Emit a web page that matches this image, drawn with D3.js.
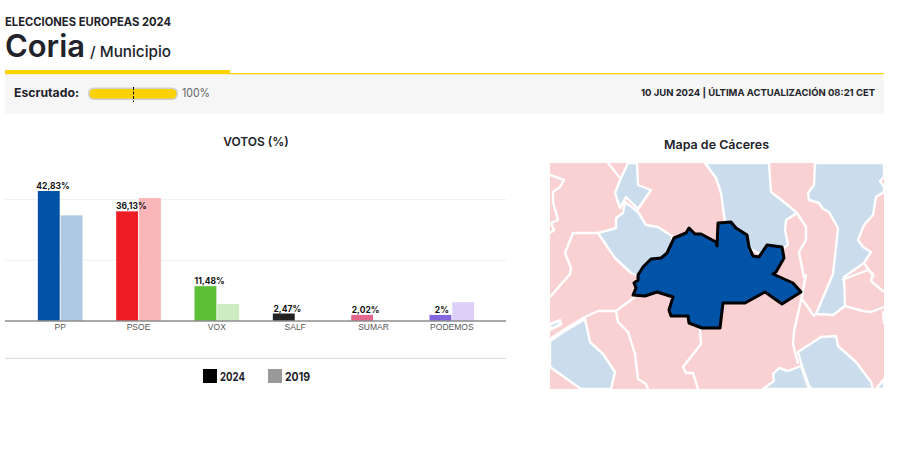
<!DOCTYPE html>
<html>
<head>
<meta charset="utf-8">
<script src="https://cdn.jsdelivr.net/npm/d3@7"></script>
<style>
  body { margin: 0; background: #fff; }
  text { font-family: Inter, "Open Sans", sans-serif; fill: #22222a; }
  .tick text { font-family: "Liberation Sans", sans-serif; fill: #555; }
</style>
</head>
<body>
<div id="chart"></div>
<script>
// Chart data
const parties = ['PP', 'PSOE', 'VOX', 'SALF', 'SUMAR', 'PODEMOS'];
const years = ['2024', '2019'];
const votes2024 = [42.83, 36.13, 11.48, 2.47, 2.02, 2];
const votes2019 = [34.8, 40.5, 5.6, 0, 0, 6.2];
const voteLabels = ['42,83%', '36,13%', '11,48%', '2,47%', '2,02%', '2%'];
const colors2024 = ['#0053a6', '#ee1c25', '#5bc035', '#222222', '#e5668c', '#8466e0'];
const colors2019 = ['#afc9e2', '#fab6b9', '#cdecc2', '#cccccc', '#f5c2d1', '#dccff8'];
const gridValues = [20, 40];

// Map shapes (units: pixels inside the map frame)
const coriaShape = [[88,112],[93,104],[101,96],[111,95],[117,90],[124,75],[136,70],[139,65],[145,71],[151,71],[166,79],[167,83],[168,60],[181,59],[186,65],[197,72],[199,84],[203,93],[209,94],[217,82],[232,84],[234,95],[226,109],[223,111],[243,120],[251,129],[232,141],[215,129],[195,140],[173,140],[170,165],[152,165],[139,160],[138,153],[121,153],[119,147],[123,134],[107,129],[95,133],[83,132],[86,125],[84,120],[88,117]];
const bluePolygons = [
  [[78,0],[87,0],[88,22],[101,27],[88,46],[76,34],[70,45],[65,30],[70,17]],
  [[75,39],[88,49],[96,62],[108,64],[122,73],[120,95],[92,112],[90,114],[81,110],[65,95],[48,70],[66,65],[66,55],[73,50]],
  [[155,0],[219,0],[221,29],[234,39],[247,50],[236,57],[235,67],[238,82],[217,95],[190,80],[176,65],[174,52],[171,30],[166,15]],
  [[265,0],[334,0],[334,14],[330,18],[334,24],[334,29],[326,34],[323,52],[314,62],[308,77],[313,84],[321,89],[314,100],[294,114],[295,143],[283,152],[266,151],[283,111],[288,65],[279,49],[273,46],[269,40],[259,37],[258,30],[264,22]],
  [[248,189],[271,174],[286,173],[288,183],[306,199],[321,219],[323,226],[261,226],[259,223],[252,203]],
  [[213,226],[224,218],[223,211],[229,205],[238,208],[251,203],[259,226]],
  [[326,226],[334,216],[334,226]],
  [[35,156],[40,179],[53,191],[65,209],[61,226],[31,226],[0,204],[0,178],[15,168]],
  [[0,161],[10,158],[11,161],[0,166]]
];
const borderLines = [
  [[58,0],[70,15]],
  [[0,12],[14,17],[10,24],[3,29],[3,39],[8,57],[1,60],[4,67],[0,70]],
  [[48,70],[23,70],[15,90],[21,105],[20,111],[0,134]],
  [[85,134],[66,148],[48,148],[35,154],[15,166],[0,176]],
  [[66,148],[68,159],[78,169],[85,191],[88,216],[96,221],[98,226]],
  [[150,166],[151,181],[133,204],[136,210],[143,210],[148,226]],
  [[256,111],[252,133],[244,168],[243,181],[248,201]],
  [[252,136],[264,153],[266,151]],
  [[295,143],[313,148],[321,149],[334,144]],
  [[292,117],[318,107],[323,111],[321,118],[334,129]],
  [[333,148],[334,161]],
  [[247,50],[256,64],[256,77],[249,89],[254,115]],
  [[314,100],[324,114]],
  [[0,161],[11,157]],
  [[0,167],[12,161]]
];

const width = 917;
const height = 460;
const yellow = '#fcd205';

const svg = d3.select('#chart')
  .append('svg')
  .attr('width', width)
  .attr('height', height)
  .style('display', 'block');

// Header
function addText(x, y, str, size, weight, len) {
  const t = svg.append('text')
    .attr('x', x)
    .attr('y', y)
    .attr('font-size', size)
    .attr('font-weight', weight)
    .text(str);
  if (len) t.attr('textLength', len).attr('lengthAdjust', 'spacingAndGlyphs');
  return t;
}

addText(5, 26, 'ELECCIONES EUROPEAS 2024', 11.5, 700, 166);
addText(5, 57, 'Coria', 31, 600, 80);
addText(90, 57, '/ Municipio', 15, 500, 81);

svg.append('rect').attr('x', 5).attr('y', 73).attr('width', 879).attr('height', 1.5).attr('fill', yellow);
svg.append('rect').attr('x', 5).attr('y', 70).attr('width', 225).attr('height', 4).attr('fill', yellow);

// Status strip
svg.append('rect').attr('x', 5).attr('y', 74.5).attr('width', 879).attr('height', 39).attr('fill', '#f6f6f6');
addText(14, 97, 'Escrutado:', 12, 700, 65);
svg.append('rect').attr('x', 88).attr('y', 87.5).attr('width', 90).attr('height', 12.5).attr('rx', 6).attr('fill', '#cfcfcf');
svg.append('rect').attr('x', 89.5).attr('y', 89).attr('width', 87).attr('height', 9.5).attr('rx', 4.5).attr('fill', yellow);
svg.append('line')
  .attr('x1', 133.5).attr('x2', 133.5).attr('y1', 87).attr('y2', 102)
  .attr('stroke', '#000').attr('stroke-dasharray', '3,1.5');
addText(182, 97, '100%', 12, 400, 28).style('fill', '#666');
addText(641, 96, '10 JUN 2024 | ÚLTIMA ACTUALIZACIÓN 08:21 CET', 9.5, 700, 234);

// Bar chart
addText(256, 146, 'VOTOS (%)', 12, 600).attr('text-anchor', 'middle');

const x0 = d3.scaleBand()
  .domain(parties)
  .range([21, 491])
  .paddingInner(0.43)
  .paddingOuter(0.215);
const x1 = d3.scaleBand()
  .domain(years)
  .range([0, x0.bandwidth()])
  .paddingInner(0.04);
const y = d3.scaleLinear().domain([0, 40]).range([321, 199.6]);

svg.selectAll('.grid')
  .data(gridValues)
  .enter()
  .append('line')
  .attr('class', 'grid')
  .attr('x1', 5)
  .attr('x2', 506)
  .attr('y1', d => y(d))
  .attr('y2', d => y(d))
  .attr('stroke', '#f1f1f1');

const barData = parties.map((p, i) => ({
  party: p,
  values: [
    { year: '2019', value: votes2019[i], color: colors2019[i] },
    { year: '2024', value: votes2024[i], color: colors2024[i] }
  ],
  label: voteLabels[i],
  v: votes2024[i]
}));

const groups = svg.selectAll('.party')
  .data(barData)
  .enter()
  .append('g')
  .attr('class', 'party')
  .attr('transform', d => `translate(${x0(d.party)},0)`);

groups.selectAll('rect')
  .data(d => d.values.filter(v => v.value > 0))
  .enter()
  .append('rect')
  .attr('x', d => x1(d.year))
  .attr('y', d => y(d.value))
  .attr('width', x1.bandwidth())
  .attr('height', d => y(0) - y(d.value))
  .attr('fill', d => d.color);

groups.append('text')
  .attr('x', x1('2024') + x1.bandwidth() / 2)
  .attr('dx', d => d.label.length * 0.7)
  .attr('y', d => y(d.v) - 2)
  .attr('text-anchor', 'middle')
  .attr('font-size', 8.5)
  .attr('font-weight', 700)
  .style('fill', '#111')
  .text(d => d.label);

const xAxis = d3.axisBottom(x0).tickSize(0).tickPadding(3);
const gX = svg.append('g')
  .attr('transform', `translate(0,${y(0)})`)
  .call(xAxis);
gX.selectAll('text').attr('font-size', 8.5).attr('font-family', null);
gX.select('.domain').remove();
svg.append('line')
  .attr('x1', 5).attr('x2', 506).attr('y1', y(0)).attr('y2', y(0))
  .attr('stroke', '#8c8c8c').attr('stroke-width', 1.6);

svg.append('line')
  .attr('x1', 5).attr('x2', 506).attr('y1', 358.5).attr('y2', 358.5)
  .attr('stroke', '#dcdcdc');

// Legend
const legendX = d3.scaleOrdinal().domain(years).range([203, 268]);
const legendFill = d3.scaleOrdinal().domain(years).range(['#000000', '#999999']);
const legend = svg.selectAll('.legend')
  .data(years)
  .enter()
  .append('g')
  .attr('class', 'legend')
  .attr('transform', d => `translate(${legendX(d)},369)`);
legend.append('rect').attr('width', 14).attr('height', 14).attr('fill', d => legendFill(d));
legend.append('text')
  .attr('x', 17)
  .attr('y', 11.5)
  .attr('font-size', 11.5)
  .attr('font-weight', 700)
  .attr('textLength', 25)
  .attr('lengthAdjust', 'spacingAndGlyphs')
  .text(d => d);

// Map
addText(664, 149, 'Mapa de Cáceres', 12, 600, 105);

const mapX = d3.scaleLinear().domain([0, 334]).range([550, 884]);
const mapY = d3.scaleLinear().domain([0, 226]).range([163, 389]);
const mapLine = d3.line().x(d => mapX(d[0])).y(d => mapY(d[1]));

svg.append('defs').append('clipPath')
  .attr('id', 'map-clip')
  .append('rect')
  .attr('x', mapX(0)).attr('y', mapY(0))
  .attr('width', mapX(334) - mapX(0)).attr('height', mapY(226) - mapY(0));

const map = svg.append('g').attr('clip-path', 'url(#map-clip)');

map.append('rect')
  .attr('x', mapX(0)).attr('y', mapY(0))
  .attr('width', mapX(334) - mapX(0)).attr('height', mapY(226) - mapY(0))
  .attr('fill', '#fad1d3');

map.selectAll('.blue')
  .data(bluePolygons)
  .enter()
  .append('path')
  .attr('class', 'blue')
  .attr('d', d => mapLine(d) + 'Z')
  .attr('fill', '#cbdcec')
  .attr('stroke', '#fff')
  .attr('stroke-width', 2.4)
  .attr('stroke-linejoin', 'round');

map.selectAll('.border')
  .data(borderLines)
  .enter()
  .append('path')
  .attr('class', 'border')
  .attr('d', mapLine)
  .attr('fill', 'none')
  .attr('stroke', '#fff')
  .attr('stroke-width', 2.4)
  .attr('stroke-linejoin', 'round');

map.append('path')
  .attr('d', mapLine(coriaShape) + 'Z')
  .attr('fill', '#0053a6')
  .attr('stroke', '#000')
  .attr('stroke-width', 3)
  .attr('stroke-linejoin', 'round');
</script>
</body>
</html>
